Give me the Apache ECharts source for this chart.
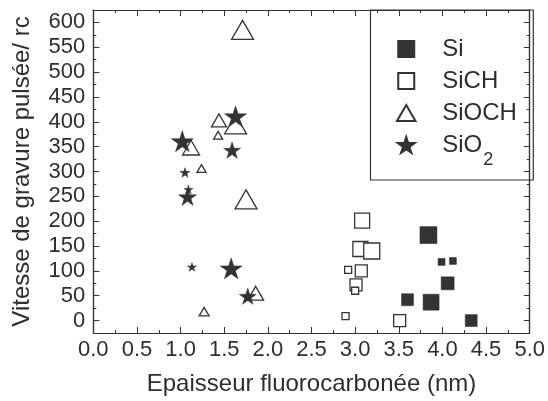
<!DOCTYPE html>
<html>
<head>
<meta charset="utf-8">
<script src="https://cdn.jsdelivr.net/npm/echarts@6/dist/echarts.min.js"></script>
<style>
html,body{margin:0;padding:0;background:#fff;}
#chart{width:548px;height:401px;}
</style>
</head>
<body>
<div id="chart"></div>
<script>
// ---- data ----
const seriesNames = ['Si', 'SiCH', 'SiOCH', 'SiO2'];

const siX = [3.84, 3.99, 4.12, 4.06, 3.60, 3.87, 4.33];
const siY = [172, 118, 120, 75, 42, 37, 0];

const sichX = [3.08, 3.06, 3.19, 2.92, 3.07, 3.01, 3.00, 2.89, 3.51];
const sichY = [201, 144, 140, 102, 100, 72, 60, 9, 0];

const siochX = [1.71, 1.44, 1.63, 1.43, 1.12, 1.24, 1.75, 1.86, 1.27];
const siochY = [585, 403, 395, 373, 348, 306, 244, 55, 18];

const sio2X = [1.02, 1.63, 1.59, 1.05, 1.09, 1.08, 1.13, 1.58, 1.77];
const sio2Y = [361, 411, 343, 298, 264, 249, 108, 105, 49];

// marker sizes (px), one per point
const siMarker = [17, 7, 7, 13, 12, 16, 12];
const sichMarker = [15, 15, 16, 7, 12, 12, 7, 7, 12];
const siochMarker = [22, 15, 22, 9, 17, 9, 22, 16, 10];
const sio2Marker = [22, 22, 17, 10, 9, 18, 9, 22, 17];

const yTickLabels = [0, 50, 100, 150, 200, 250, 300, 350, 400, 450, 500, 550, 600];
const yMinorTicks = [25, 75, 125, 175, 225, 275, 325, 375, 425, 475, 525, 575];

// ---- styles ----
const INK = '#333333';
const TXT = '#2e2e2e';
const SQUARE = 'path://M0,0L10,0L10,10L0,10Z';
const TRI = 'path://M0,-1L0.866,0.5L-0.866,0.5Z';
const STAR = 'path://M0,-1L0.2245,-0.309L0.951,-0.309L0.363,0.118L0.588,0.809L0,0.382L-0.588,0.809L-0.363,0.118L-0.951,-0.309L-0.2245,-0.309Z';

function pts(xs, ys) { return xs.map((x, i) => [x, ys[i]]); }
function sizer(arr) { return (v, p) => arr[p.dataIndex]; }

const chart = echarts.init(document.getElementById('chart'), null, {renderer: 'canvas'});

const gridL = 93.3, gridT = 10, gridR = 14.7, gridB = 67;
const fontFam = '"Liberation Sans", Arial, sans-serif';

function xAxisDef(pos, showLabel) {
  return {
    type: 'value', position: pos, min: 0, max: 5, interval: 0.5,
    axisLine: {show: true, onZero: false, lineStyle: {color: INK, width: 1.2}},
    axisTick: {show: true, inside: true, length: 6, lineStyle: {color: INK, width: 1}},
    minorTick: {show: true, splitNumber: 2, length: 3, lineStyle: {color: INK, width: 1}},
    splitLine: {show: false}, minorSplitLine: {show: false},
    axisLabel: {show: showLabel, margin: 6, fontSize: 22, color: TXT, fontFamily: fontFam,
      formatter: v => v.toFixed(1)},
    name: showLabel ? 'Epaisseur fluorocarbonée (nm)' : '',
    nameLocation: 'middle', nameGap: 39,
    nameTextStyle: {fontSize: 24, color: TXT, fontFamily: fontFam}
  };
}

function yAxisDef(pos, major, showLabel) {
  return {
    type: 'value', position: pos, min: -25, max: 625, offset: 0,
    axisLine: {show: true, onZero: false, lineStyle: {color: INK, width: 1.2}},
    axisTick: {show: true, inside: true, length: major ? 6 : 3,
      customValues: major ? yTickLabels : yMinorTicks, lineStyle: {color: INK, width: 1}},
    splitLine: {show: false},
    axisLabel: {show: showLabel, margin: 8, fontSize: 22, color: TXT, fontFamily: fontFam,
      customValues: yTickLabels},
    name: showLabel ? 'Vitesse de gravure pulsée/ rc' : '',
    nameLocation: 'middle', nameGap: 59,
    nameTextStyle: {fontSize: 24, color: TXT, fontFamily: fontFam}
  };
}

const hollow = {color: '#ffffff', borderColor: INK, borderWidth: 1.3, opacity: 1};
const filled = {color: INK, borderColor: INK, borderWidth: 0.5, opacity: 1};

const option = {
  backgroundColor: '#ffffff',
  animation: false,
  grid: {left: gridL, top: gridT, right: gridR, bottom: gridB, containLabel: false},
  xAxis: [xAxisDef('bottom', true), xAxisDef('top', false)],
  yAxis: [yAxisDef('left', true, true), yAxisDef('left', false, false),
          yAxisDef('right', true, false), yAxisDef('right', false, false)],
  legend: {
    orient: 'vertical', left: 391, top: 20,
    itemWidth: 62, itemHeight: 16, itemGap: -16,
    symbolKeepAspect: true,
    data: seriesNames,
    formatter: n => n === 'SiO2' ? 'SiO{sub|2}' : n,
    textStyle: {fontSize: 24, lineHeight: 48, color: TXT, fontFamily: fontFam,
      rich: {sub: {fontSize: 18, lineHeight: 6, verticalAlign: 'bottom', color: TXT, fontFamily: fontFam, padding: [0, 0, 0, 1]}}}
  },
  graphic: [{
    type: 'rect', z: -1, silent: true,
    shape: {x: 370.5, y: 10, width: 162.8, height: 170},
    style: {fill: '#ffffff', stroke: INK, lineWidth: 1.2}
  }],
  series: [
    {name: 'Si', type: 'scatter', xAxisIndex: 0, yAxisIndex: 0, symbol: SQUARE, symbolKeepAspect: true,
     symbolSize: sizer(siMarker), itemStyle: filled, data: pts(siX, siY)},
    {name: 'SiCH', type: 'scatter', xAxisIndex: 0, yAxisIndex: 0, symbol: SQUARE, symbolKeepAspect: true,
     symbolSize: sizer(sichMarker), itemStyle: hollow, data: pts(sichX, sichY)},
    {name: 'SiOCH', type: 'scatter', xAxisIndex: 0, yAxisIndex: 0, symbol: TRI, symbolKeepAspect: true,
     symbolSize: sizer(siochMarker), itemStyle: hollow, data: pts(siochX, siochY)},
    {name: 'SiO2', type: 'scatter', xAxisIndex: 0, yAxisIndex: 0, symbol: STAR, symbolKeepAspect: true,
     symbolSize: sizer(sio2Marker), itemStyle: filled, data: pts(sio2X, sio2Y)}
  ]
};
chart.setOption(option);
</script>
</body>
</html>
